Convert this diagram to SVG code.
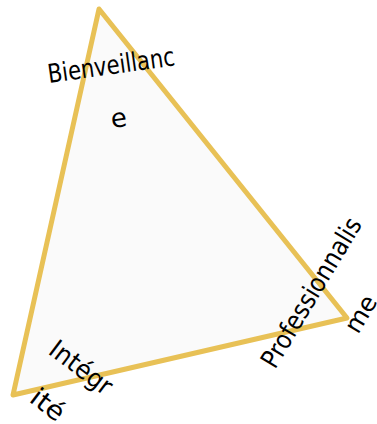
<svg xmlns="http://www.w3.org/2000/svg" width="377" height="424" viewBox="0 0 377 424">
<style>
.lbl{font-family:"DejaVu Sans",sans-serif;font-size:26px;fill:#000}
.tri{fill:#FAFAFA;stroke:#E8C156;stroke-width:5;stroke-linejoin:round}
</style>
<rect width="377" height="424" fill="#fff"/>
<g id="triangle">
<polygon class="tri" points="99,9 347,318 13,395"/>
</g>
<g id="connectors"></g>
<g id="bienveillance">
<text class="lbl" transform="translate(49,83) rotate(-8)" textLength="128" lengthAdjust="spacingAndGlyphs">Bienveillanc</text>
<text class="lbl" transform="translate(112,128) rotate(-8)">e</text>
</g>
<g id="professionnalisme">
<text class="lbl" transform="translate(275,370) rotate(-59)" textLength="170" lengthAdjust="spacingAndGlyphs">Professionnalis</text>
<text class="lbl" style="font-size:25px" transform="translate(358,335) rotate(-59)" textLength="39" lengthAdjust="spacingAndGlyphs">me</text>
</g>
<g id="integrite">
<text class="lbl" transform="translate(47,353) rotate(37)" textLength="72" lengthAdjust="spacingAndGlyphs">Intégr</text>
<text class="lbl" transform="translate(28,401) rotate(37)" textLength="36" lengthAdjust="spacingAndGlyphs">ité</text>
</g>
</svg>
